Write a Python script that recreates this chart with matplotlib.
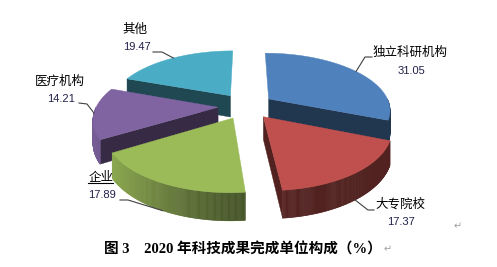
import numpy as np
import matplotlib.pyplot as plt
from matplotlib.patches import Polygon
from matplotlib.colors import to_rgb

labels = ['独立科研机构', '大专院校', '企业', '医疗机构', '其他']
values = [31.05, 17.37, 17.89, 14.21, 19.47]
colors = ['#4F81BD', '#C0504D', '#9BBB59', '#8064A2', '#4BACC6']
title = '图 3\u30002020 年科技成果完成单位构成（%）'

# label layout in pixels: name centre, value centre, leader points on the label side
name_pos = [(410, 52), (400, 204), (101, 177), (60, 81), (135, 29)]
value_pos = [(411, 71), (401, 222), (102, 195), (61, 99), (137, 47)]
leader_pts = [[(372, 57), (365, 57)], [(374, 210), (368, 210)],
              [(120, 200), (128, 200)], [(79, 103), (87, 104)],
              [(153, 52), (162, 52)]]

# 3d pie projection settings
cx, cy = 246, 106
R, T, D = 121.5, 56.3, 22
persp = 0.18
explode = 0.23


def proj(X, Z, h=0.0):
    f = 1.0 / (1.0 + persp * Z)
    return cx + R * X * f, cy - T * Z * f + D * h * f


def shade(c, k):
    return tuple(np.clip(np.array(to_rgb(c)) * k, 0, 1))


def wall_shade(t):
    return 0.42 + 0.5 * max(0.0, np.cos(t - np.radians(200))) ** 2


fig = plt.figure(figsize=(4.97, 2.67), dpi=100)
ax = fig.add_axes([0, 0, 1, 1])
ax.set_xlim(0, 497)
ax.set_ylim(267, 0)
ax.axis('off')

frac = np.array(values) / sum(values)
cum = np.concatenate([[0], np.cumsum(frac)])
a_hi = 90 - cum[:-1] * 360
a_lo = 90 - cum[1:] * 360
mid = (a_hi + a_lo) / 2

order = np.argsort(-np.sin(np.radians(mid)))
for i in order:
    m = np.radians(mid[i])
    vx, vz = explode * np.cos(m), explode * np.sin(m)
    col = colors[i]

    # cut faces
    for a, nrm in [(a_lo[i], a_lo[i] - 90), (a_hi[i], a_hi[i] + 90)]:
        if np.sin(np.radians(nrm)) < 0:
            rx, rz = vx + np.cos(np.radians(a)), vz + np.sin(np.radians(a))
            quad = [proj(vx, vz, 0), proj(rx, rz, 0), proj(rx, rz, 1), proj(vx, vz, 1)]
            ax.add_patch(Polygon(quad, closed=True, fc=shade(col, 0.42),
                                 ec=shade(col, 0.42), lw=0.3))

    # outer wall
    t = np.radians(np.linspace(a_lo[i], a_hi[i], 150))
    for j in range(len(t) - 1):
        tm = (t[j] + t[j + 1]) / 2
        if np.sin(tm) >= 0:
            continue
        p0 = (vx + np.cos(t[j]), vz + np.sin(t[j]))
        p1 = (vx + np.cos(t[j + 1]), vz + np.sin(t[j + 1]))
        quad = [proj(*p0, 0), proj(*p1, 0), proj(*p1, 1), proj(*p0, 1)]
        c = shade(col, wall_shade(tm))
        ax.add_patch(Polygon(quad, closed=True, fc=c, ec=c, lw=0.4))

    # top face
    top = [proj(vx, vz, 0)] + [proj(vx + np.cos(tt), vz + np.sin(tt), 0) for tt in t]
    ax.add_patch(Polygon(top, closed=True, fc=col, ec=col, lw=0.3))

    # leader line and labels
    h = 1 if np.sin(m) < -0.5 else 0
    end = proj(vx + np.cos(m), vz + np.sin(m), h)
    pts = leader_pts[i] + [end]
    ax.plot([p[0] for p in pts], [p[1] for p in pts], color='#404040', lw=0.8)
    ax.text(*name_pos[i], labels[i], ha='center', va='center', fontsize=9,
            family=['Noto Sans CJK SC', 'DejaVu Sans'], color='black')
    ax.text(*value_pos[i], f'{values[i]:.2f}', ha='center', va='center', fontsize=8,
            family=['Liberation Sans'], color='#20204a')

# underline under 企业
ax.plot([88, 113], [183, 183], color='black', lw=0.8)

ax.text(104, 249, title, ha='left', va='center', fontsize=10.5, fontweight='bold',
        family=['Liberation Serif', 'Noto Sans CJK SC'], color='black')
ax.text(388, 249, '\u21b5', ha='center', va='center', fontsize=7, color='#a0a0a0',
        family=['DejaVu Sans'])
ax.text(458, 226, '\u21b5', ha='center', va='center', fontsize=7, color='#a0a0a0',
        family=['DejaVu Sans'])

fig.savefig('out.png', dpi=100)
